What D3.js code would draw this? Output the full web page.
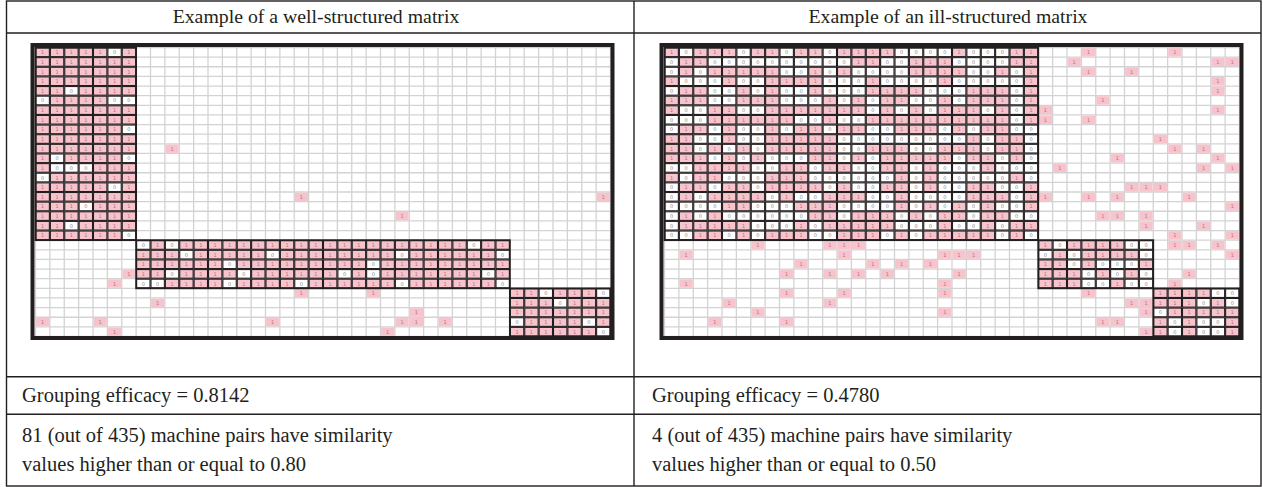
<!DOCTYPE html>
<html>
<head>
<meta charset="utf-8">
<script src="https://cdn.jsdelivr.net/npm/d3@7"></script>
<style>
  body { margin: 0; background: #fff; }
  svg { display: block; }
  .txt { font-family: "Liberation Serif", "Times New Roman", serif; fill: #231f20; }
</style>
</head>
<body>
<div id="chart"></div>
<script>
// texts of the table
const titles = ["Example of a well-structured matrix", "Example of an ill-structured matrix"];
const efficacyLines = ["Grouping efficacy = 0.8142", "Grouping efficacy = 0.4780"];
const pairLines = [
    ["81 (out of 435) machine pairs have similarity", "values higher than or equal to 0.80"],
    ["4 (out of 435) machine pairs have similarity", "values higher than or equal to 0.50"]
];

// 30 machines (rows) x 40 parts (columns)
const machines = d3.range(1, 31);
const parts = d3.range(1, 41);

// well-structured matrix: diagonal blocks (first machine, first part, rows of 1/0)
const wellBlocks = [
    { machine: 1, part: 1, rows: [
        "1111101", "1111111", "1111111", "1111111", "1101111",
        "0111100", "1111111", "1111111", "1111110", "1111111",
        "1111111", "1011110", "1000111", "0111111", "1111101",
        "1111111", "1110111", "1111111", "1101111", "1111110"] },
    { machine: 21, part: 8, rows: [
        "01011111111111111111111011",
        "11101111101111111101111110",
        "11111101111111110111111111",
        "11011110111111010111111101",
        "00111101111011111101111110"] },
    { machine: 26, part: 34, rows: [
        "1101110", "1110111", "1111111", "0111101", "1111110"] }
];
// exceptional elements [machine, part]
const wellExceptions = [
    [11, 10], [16, 19], [16, 40], [18, 26], [24, 7], [25, 6], [26, 19], [26, 24],
    [27, 9], [28, 27], [29, 1], [29, 5], [29, 17], [29, 26], [29, 27], [29, 29],
    [30, 6], [30, 25]
];

// ill-structured matrix
const illBlocks = [
    { machine: 1, part: 1, rows: [
        "10111011011011110000100011",
        "01100000000001100111000011",
        "01011111001010000111100101",
        "10001001111000100001000001",
        "01100101001000111100011101",
        "11100111000101011001011101",
        "10011001111111010101110101",
        "00011111100100111111111101",
        "01101001011011001110101100",
        "11001001111100000000010110",
        "11010101111100111001110110",
        "11101010001101011111011010",
        "00111100110110011010001000",
        "10110001110000001010000010",
        "01101101111010011010011001",
        "01011110100111001000011101",
        "00001100011100001010101001",
        "01010000001101110101101100",
        "01111100010111110001001011",
        "00110101110011101011111010"] },
    { machine: 21, part: 27, rows: [
        "10111100", "01011110", "11010001", "11101010", "11100100"] },
    { machine: 26, part: 35, rows: [
        "111100", "111010", "011111", "101001", "101001"] }
];
const illExceptions = [
    [1, 30], [1, 36], [2, 29], [2, 39], [2, 40], [3, 30], [3, 33], [4, 39], [5, 39],
    [6, 31], [7, 27], [7, 39], [8, 27], [8, 30], [10, 35], [11, 36], [11, 38],
    [12, 32], [12, 39], [13, 28], [13, 38], [13, 40], [15, 33], [15, 34], [15, 35],
    [16, 27], [16, 30], [16, 32], [16, 37], [17, 40], [18, 31], [18, 32], [18, 34],
    [19, 34], [19, 38], [20, 36], [20, 40],
    [21, 7], [21, 12], [21, 13], [21, 14], [21, 36], [21, 37], [21, 39],
    [22, 2], [22, 13], [22, 20], [22, 21], [22, 22], [22, 40],
    [23, 10], [23, 15], [23, 17], [23, 19],
    [24, 9], [24, 12], [24, 14], [24, 16], [24, 21], [24, 37],
    [25, 2], [25, 20], [25, 36],
    [26, 9], [26, 13], [26, 20], [26, 30],
    [27, 5], [27, 12], [27, 33], [27, 34],
    [28, 7], [28, 20], [28, 34],
    [29, 4], [29, 9], [29, 31], [29, 32],
    [30, 34]
];

const W = 1263, H = 487;
const ink = "#231f20";
const pink = "#f7c3cc";

const svg = d3.select("#chart").append("svg")
    .attr("width", W)
    .attr("height", H);

function drawMatrix(blocks, exceptions, left) {
    const g = svg.append("g");

    const x = d3.scaleBand().domain(parts).range([left + 3, left + 578]);
    const y = d3.scaleBand().domain(machines).range([47.5, 336.5]);
    const bw = x.bandwidth(), bh = y.bandwidth();

    // light grid
    g.selectAll(".vl").data(parts.concat([41]))
        .join("line")
        .attr("x1", d => d > 40 ? x(40) + bw : x(d))
        .attr("x2", d => d > 40 ? x(40) + bw : x(d))
        .attr("y1", y.range()[0]).attr("y2", y.range()[1])
        .attr("stroke", "#d3d3d3").attr("stroke-width", 1.3);
    g.selectAll(".hl").data(machines.concat([31]))
        .join("line")
        .attr("y1", d => d > 30 ? y(30) + bh : y(d))
        .attr("y2", d => d > 30 ? y(30) + bh : y(d))
        .attr("x1", x.range()[0]).attr("x2", x.range()[1])
        .attr("stroke", "#d3d3d3").attr("stroke-width", 1.3);

    // exceptional 1s outside the blocks
    const ex = g.selectAll(".ex").data(exceptions).join("g");
    ex.append("rect")
        .attr("x", d => x(d[1]) + 0.6)
        .attr("y", d => y(d[0]) + 0.6)
        .attr("width", bw - 1.2)
        .attr("height", bh - 1.2)
        .attr("fill", pink);
    ex.append("text")
        .attr("x", d => x(d[1]) + bw / 2)
        .attr("y", d => y(d[0]) + bh / 2 + 2)
        .attr("text-anchor", "middle")
        .attr("font-family", "DejaVu Sans")
        .attr("font-size", 5)
        .attr("fill", "#b8707a")
        .text("1");

    // block cells
    const cells = [];
    blocks.forEach(b => {
        b.rows.forEach((row, i) => {
            row.split("").forEach((v, j) => {
                cells.push({ m: b.machine + i, p: b.part + j, v: v });
            });
        });
    });

    const c = g.selectAll(".cell").data(cells).join("g");
    c.append("rect")
        .attr("x", d => x(d.p) + 0.5)
        .attr("y", d => y(d.m) + 0.5)
        .attr("width", bw - 1)
        .attr("height", bh - 1)
        .attr("fill", d => d.v === "1" ? pink : "#fff")
        .attr("stroke", ink)
        .attr("stroke-width", 1.1);
    c.append("text")
        .attr("x", d => x(d.p) + bw / 2)
        .attr("y", d => y(d.m) + bh / 2 + 2)
        .attr("text-anchor", "middle")
        .attr("font-family", "DejaVu Sans")
        .attr("font-size", 5)
        .attr("fill", d => d.v === "1" ? "#b8707a" : "#8a8a8a")
        .text(d => d.v);

    // block outlines
    g.selectAll(".blk").data(blocks).join("rect")
        .attr("x", d => x(d.part))
        .attr("y", d => y(d.machine))
        .attr("width", d => d.rows[0].length * bw)
        .attr("height", d => d.rows.length * bh)
        .attr("fill", "none")
        .attr("stroke", ink)
        .attr("stroke-width", 1.8);

    // heavy frame
    g.append("rect")
        .attr("x", left)
        .attr("y", 45)
        .attr("width", 580)
        .attr("height", 293)
        .attr("fill", "none")
        .attr("stroke", ink)
        .attr("stroke-width", 4);
}

// table frame
const tLeft = 6.5, tRight = 1261, tTop = 1, tBottom = 486, tMid = 634;
svg.append("rect")
    .attr("x", tLeft).attr("y", tTop)
    .attr("width", tRight - tLeft).attr("height", tBottom - tTop)
    .attr("fill", "none").attr("stroke", ink).attr("stroke-width", 1.4);
[33, 376.7, 414.3].forEach(yy => {
    svg.append("line")
        .attr("x1", tLeft).attr("x2", tRight)
        .attr("y1", yy).attr("y2", yy)
        .attr("stroke", ink).attr("stroke-width", 1.4);
});
svg.append("line")
    .attr("x1", tMid).attr("x2", tMid)
    .attr("y1", tTop).attr("y2", tBottom)
    .attr("stroke", ink).attr("stroke-width", 1.4);

drawMatrix(wellBlocks, wellExceptions, 32.5);
drawMatrix(illBlocks, illExceptions, 661.5);

const colLeft = [22, 652];
const colCenter = [316, 948];

svg.selectAll(".title").data(titles).join("text")
    .attr("class", "txt")
    .attr("x", (d, i) => colCenter[i])
    .attr("y", 23)
    .attr("text-anchor", "middle")
    .attr("font-size", 19.8)
    .text(d => d);

svg.selectAll(".eff").data(efficacyLines).join("text")
    .attr("class", "txt")
    .attr("x", (d, i) => colLeft[i])
    .attr("y", 402)
    .attr("font-size", 20.5)
    .text(d => d);

pairLines.forEach((lines, i) => {
    lines.forEach((t, k) => {
        svg.append("text")
            .attr("class", "txt")
            .attr("x", colLeft[i])
            .attr("y", 442 + k * 29)
            .attr("font-size", 20.5)
            .text(t);
    });
});
</script>
</body>
</html>
